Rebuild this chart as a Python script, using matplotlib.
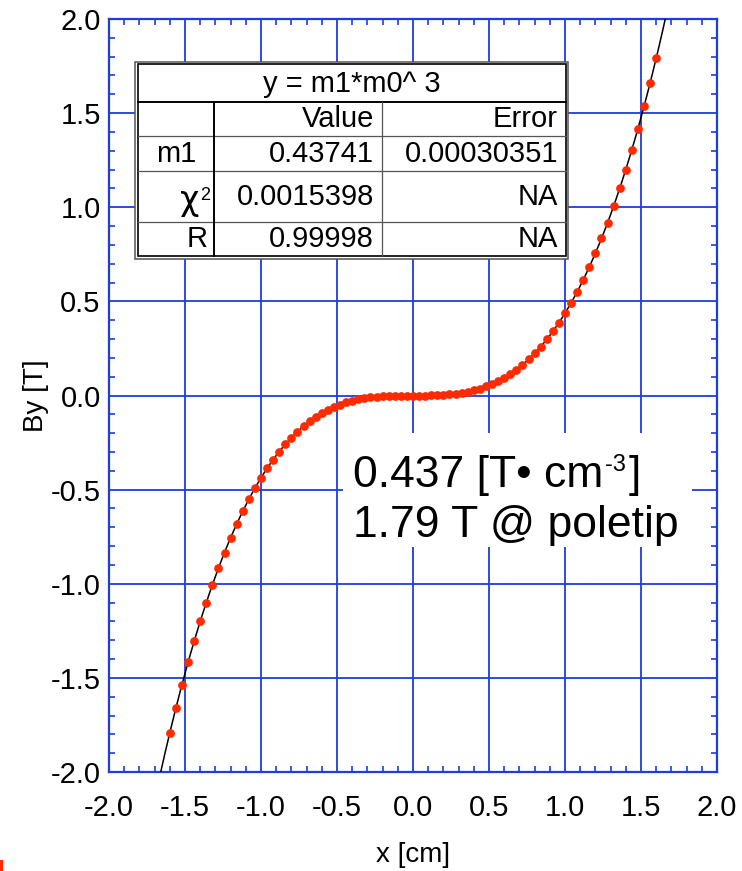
import matplotlib
matplotlib.use("Agg")
import matplotlib.pyplot as plt
import numpy as np
from matplotlib.patches import Rectangle

plt.rcParams['font.family'] = ['Liberation Sans', 'DejaVu Sans']
plt.rcParams['axes.unicode_minus'] = False

# measured field points
x_cm = [-1.60, -1.56, -1.52, -1.48, -1.44, -1.40, -1.36, -1.32, -1.28, -1.24,
        -1.20, -1.16, -1.12, -1.08, -1.04, -1.00, -0.96, -0.92, -0.88, -0.84,
        -0.80, -0.76, -0.72, -0.68, -0.64, -0.60, -0.56, -0.52, -0.48, -0.44,
        -0.40, -0.36, -0.32, -0.28, -0.24, -0.20, -0.16, -0.12, -0.08, -0.04,
        0.00,
        0.04, 0.08, 0.12, 0.16, 0.20, 0.24, 0.28, 0.32, 0.36, 0.40,
        0.44, 0.48, 0.52, 0.56, 0.60, 0.64, 0.68, 0.72, 0.76, 0.80,
        0.84, 0.88, 0.92, 0.96, 1.00, 1.04, 1.08, 1.12, 1.16, 1.20,
        1.24, 1.28, 1.32, 1.36, 1.40, 1.44, 1.48, 1.52, 1.56, 1.60]
by_T = [-1.792, -1.661, -1.536, -1.418, -1.306, -1.200, -1.100, -1.006, -0.917, -0.834,
        -0.756, -0.683, -0.615, -0.551, -0.492, -0.437, -0.387, -0.341, -0.298, -0.259,
        -0.224, -0.192, -0.163, -0.138, -0.115, -0.094, -0.077, -0.062, -0.048, -0.037,
        -0.028, -0.020, -0.014, -0.010, -0.006, -0.003, -0.002, -0.001, 0.000, 0.000,
        0.000,
        0.000, 0.000, 0.001, 0.002, 0.003, 0.006, 0.010, 0.014, 0.020, 0.028,
        0.037, 0.048, 0.062, 0.077, 0.094, 0.115, 0.138, 0.163, 0.192, 0.224,
        0.259, 0.298, 0.341, 0.387, 0.437, 0.492, 0.551, 0.615, 0.683, 0.756,
        0.834, 0.917, 1.006, 1.100, 1.200, 1.306, 1.418, 1.536, 1.661, 1.792]

# fit result table
fit_title = "y = m1*m0^ 3"
col_heads = ["Value", "Error"]
m1_value, m1_error = "0.43741", "0.00030351"
chi2_value = "0.0015398"
r_value = "0.99998"
m1 = 0.43741

W, H = 742, 871
blue = '#1d3ce3'
red = '#ff2a00'


def fx(px):
    return px / W


def fy(py):
    return 1 - py / H


fig = plt.figure(figsize=(W / 100, H / 100), dpi=100)
ax = fig.add_axes([fx(109), fy(772), (717 - 109) / W, (772 - 19) / H])

xf = np.linspace(-1.7, 1.7, 400)
ax.plot(xf, m1 * xf ** 3, color='black', lw=1.1, zorder=3)
ax.plot(x_cm, by_T, 'o', color=red, ms=6.3, mec='none', zorder=4)

ax.set_xlim(-2, 2)
ax.set_ylim(-2, 2)
ax.set_xticks(np.arange(-2, 2.01, 0.5))
ax.set_yticks(np.arange(-2, 2.01, 0.5))
ax.set_xticks(np.arange(-2, 2.01, 0.1), minor=True)
ax.set_yticks(np.arange(-2, 2.01, 0.1), minor=True)
ax.xaxis.set_major_formatter(matplotlib.ticker.FormatStrFormatter('%.1f'))
ax.yaxis.set_major_formatter(matplotlib.ticker.FormatStrFormatter('%.1f'))
ax.grid(True, which='major', color=blue, lw=1.3, zorder=1)
ax.tick_params(which='both', direction='in', top=True, right=True,
               color=blue, labelsize=21)
ax.tick_params(axis='x', which='major', length=0, pad=16)
ax.tick_params(axis='y', which='major', length=0, pad=6)
ax.tick_params(which='minor', length=4, width=1.2)
for s in ax.spines.values():
    s.set_color(blue)
    s.set_linewidth(1.6)

ax.set_xlabel('x [cm]', fontsize=20, labelpad=14)
ax.set_ylabel('By [T]', fontsize=20, labelpad=1)

# white box behind the annotation
fig.patches.append(Rectangle((fx(343), fy(547)), (692 - 343) / W, (547 - 433) / H,
                             transform=fig.transFigure, facecolor='white',
                             edgecolor='none', zorder=2))
renderer = fig.canvas.get_renderer()
t1 = fig.text(fx(353), fy(487), '0.437 [T• cm', fontsize=32, ha='left',
              va='baseline', zorder=3)
bb = t1.get_window_extent(renderer=renderer)
t2 = fig.text(fx(bb.x1 + 2), fy(471), '-3', fontsize=17, ha='left',
              va='baseline', zorder=3)
bb2 = t2.get_window_extent(renderer=renderer)
fig.text(fx(bb2.x1 + 3), fy(487), ']', fontsize=32, ha='left',
         va='baseline', zorder=3)
fig.text(fx(353), fy(537), '1.79 T @ poletip', fontsize=32, ha='left',
         va='baseline', zorder=3)

# fit table drawn in pixel coordinates
tab = fig.add_axes([fx(134), fy(260), (569 - 134) / W, (260 - 61) / H], zorder=5)
tab.set_xlim(134, 569)
tab.set_ylim(260, 61)
tab.axis('off')
tab.add_patch(Rectangle((135, 62), 433, 197, facecolor='white', edgecolor='#555555', lw=1.1))
tab.add_patch(Rectangle((137.5, 64.5), 428, 192, facecolor='none', edgecolor='black', lw=1.2))
tab.plot([137.5, 565.5], [101.7, 101.7], color='black', lw=1.4)
for yy in [136, 171, 222]:
    tab.plot([137.5, 565.5], [yy, yy], color='#555555', lw=0.9)
tab.plot([214, 214], [101.7, 256.5], color='black', lw=1.4)
tab.plot([381.5, 381.5], [101.7, 256.5], color='#555555', lw=0.9)

fs = 21
tab.text(351.5, 92, fit_title, fontsize=fs, ha='center', va='baseline')
tab.text(374, 127, col_heads[0], fontsize=fs, ha='right', va='baseline')
tab.text(558, 127, col_heads[1], fontsize=fs, ha='right', va='baseline')
tab.text(176, 162, 'm1', fontsize=fs, ha='center', va='baseline')
tab.text(374, 162, m1_value, fontsize=fs, ha='right', va='baseline')
tab.text(558, 162, m1_error, fontsize=fs, ha='right', va='baseline')
tab.text(199, 210, 'χ', fontsize=24, family='DejaVu Sans', ha='right', va='baseline')
tab.text(200, 200, '2', fontsize=13, ha='left', va='baseline')
tab.text(374, 205, chi2_value, fontsize=fs, ha='right', va='baseline')
tab.text(558, 205, 'NA', fontsize=fs, ha='right', va='baseline')
tab.text(208, 247, 'R', fontsize=fs, ha='right', va='baseline')
tab.text(374, 247, r_value, fontsize=fs, ha='right', va='baseline')
tab.text(558, 247, 'NA', fontsize=fs, ha='right', va='baseline')

# small red mark in the lower left corner
fig.patches.append(Rectangle((0, 0), 2.5 / W, 11 / H, transform=fig.transFigure,
                             facecolor=red, edgecolor='none'))

fig.savefig('out.png', dpi=100)
